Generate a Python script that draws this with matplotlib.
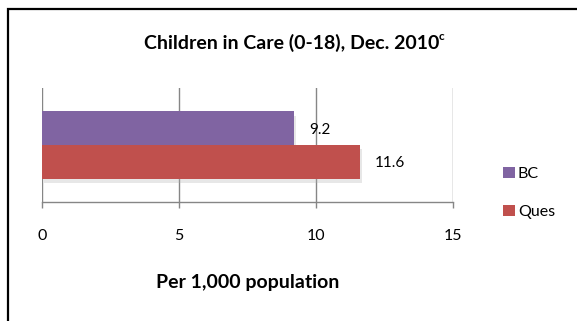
import matplotlib
matplotlib.use('Agg')
import matplotlib.pyplot as plt
import matplotlib.patheffects as pe
from matplotlib.patches import Rectangle, Patch

# данные
series = ['BC', 'Ques']
values = [9.2, 11.6]
colors = ['#8064A2', '#C0504D']
x_ticks = [0, 5, 10, 15]

plt.rcParams['font.family'] = ['Lato', 'DejaVu Sans']

fig = plt.figure(figsize=(5.77, 3.21), dpi=100)
ax = fig.add_axes([0.0723, 0.3707, 0.7135, 0.3551])

# рамка вокруг диаграммы (обрезана справа и снизу)
fig.patches.append(Rectangle((8 / 577, -0.1), 1.2, 1 - 9 / 321 + 0.1,
                             transform=fig.transFigure, fill=False,
                             edgecolor='black', linewidth=1.6))

# горизонтальные столбцы: BC сверху, Ques снизу
positions = [0.25, -0.25]
shadow = [pe.SimplePatchShadow(offset=(1.5, -3), shadow_rgbFace='#b0b0b0', alpha=0.3), pe.Normal()]
for name, val, col, pos in zip(series, values, colors, positions):
    bar = ax.barh(pos, val, height=0.5, color=col, label=name, zorder=3)
    for p in bar:
        p.set_path_effects(shadow)
    ax.text(val + 0.55, pos - 0.02, f'{val}', va='center', ha='left',
            fontsize=11, color='black', zorder=4)

ax.set_xlim(0, 15)
ax.set_ylim(-0.85, 0.85)
ax.set_xticks(x_ticks)
ax.set_xticklabels([str(t) for t in x_ticks], fontsize=11.5)
ax.set_yticks([])
ax.grid(axis='x', color='#868686', linewidth=1.0, zorder=0)
for s in ['top', 'right', 'left']:
    ax.spines[s].set_visible(False)
ax.spines['bottom'].set_color('#868686')
ax.spines['bottom'].set_linewidth(1.0)
ax.tick_params(axis='x', direction='out', length=4.5, width=1.0,
               color='#868686', pad=15)

ax.set_xlabel('Per 1,000 population', fontsize=14, fontweight='bold', labelpad=22)

# заголовок с надстрочной буквой
title = fig.text(292 / 577, 1 - 43 / 321, 'Children in Care (0-18), Dec. 2010',
                 ha='center', va='center', fontsize=14, fontweight='bold')
fig.canvas.draw()
bb = title.get_window_extent()
fig.text((bb.x1 - 1.5) / 577, 1 - 37 / 321, 'c', ha='left', va='center',
         fontsize=8.5, fontweight='bold')

# легенда справа
handles = [Patch(facecolor=c, edgecolor='none') for c in colors]
fig.legend(handles, series, loc='center left', bbox_to_anchor=(497 / 577, 1 - 193 / 321),
           frameon=False, fontsize=11.5, handlelength=0.7, handleheight=0.7,
           handletextpad=0.2, labelspacing=1.5, borderaxespad=0)

fig.savefig('out.png', dpi=100)
